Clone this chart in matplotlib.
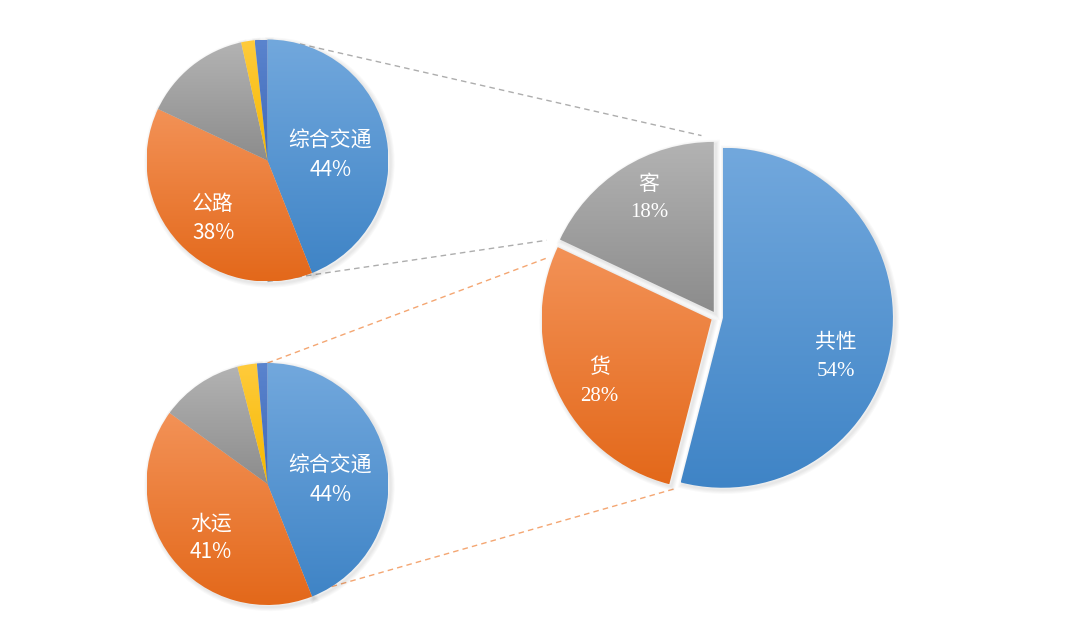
"""Pie-of-pie style chart: main split (共性/货/客) with two breakdown pies."""

import numpy as np
import matplotlib
matplotlib.use("Agg")
import matplotlib.pyplot as plt
import matplotlib.colors as mcolors
import matplotlib.patheffects as pe
from matplotlib.patches import Wedge

plt.rcParams["font.family"] = ["Noto Sans CJK SC", "DejaVu Sans"]

# --- data -------------------------------------------------------------
main_labels = ["共性", "货", "客"]
main_values = [54, 28, 18]

road_labels = ["综合交通", "公路", "", "", ""]
road_values = [44, 38, 14.5, 1.8, 1.7]

water_labels = ["综合交通", "水运", "", "", ""]
water_values = [44, 41, 11.0, 2.6, 1.4]

# --- styles -----------------------------------------------------------
# (top colour, bottom colour) for the vertical gradient of each slice
BLUE = ("#72A8DD", "#3F84C6")
ORANGE = ("#F39257", "#E3681A")
GRAY = ("#B3B3B3", "#8C8C8C")
GOLD = ("#FFCB3C", "#F5B800")
NAVY = ("#5A84CE", "#3F69B8")

W, H = 1080, 644


def px(x, y):
    """Convert picture pixel coords (y down) to axes coords (y up)."""
    return x, H - y


def fill_gradient(ax, wedge, colors, z):
    bb = wedge.get_path().get_extents()
    c0 = np.array(mcolors.to_rgb(colors[0]))
    c1 = np.array(mcolors.to_rgb(colors[1]))
    t = np.linspace(0, 1, 256)[:, None, None]
    img = c0 + (c1 - c0) * t
    im = ax.imshow(img, extent=(bb.x0, bb.x1, bb.y0, bb.y1), origin="upper",
                   aspect="auto", interpolation="bilinear", zorder=z)
    im.set_clip_path(wedge)


def soft_shadow(ax, wedge, z, dx=2.0, dy=-2.0):
    sh = Wedge((wedge.center[0] + dx, wedge.center[1] + dy), wedge.r,
               wedge.theta1, wedge.theta2, facecolor="none", edgecolor="none",
               zorder=z)
    sh.set_path_effects([pe.Stroke(linewidth=w, foreground="k", alpha=0.025)
                         for w in (1.5, 3, 4.5, 6)])
    ax.add_patch(sh)


def draw_pie(ax, values, colors, center, radius, explode=None, z=3):
    wedges, _ = ax.pie(values, colors=["none"] * len(values), startangle=90,
                       counterclock=False, center=center, radius=radius,
                       explode=explode, wedgeprops=dict(linewidth=0, zorder=z))
    for w, c in zip(wedges, colors):
        soft_shadow(ax, w, z - 1)
        fill_gradient(ax, w, c, z)
    return wedges


def label(ax, center, radius, offset, name, pct, fam, gap=14.5, size=15):
    x = center[0] + offset[0] * radius
    y = center[1] + offset[1] * radius
    ax.text(x, y + gap, name, ha="center", va="center", color="white",
            fontsize=size, zorder=10)
    ax.text(x, y - gap, pct, ha="center", va="center", color="white",
            fontsize=size, family=fam, zorder=10)


fig = plt.figure(figsize=(W / 100, H / 100), dpi=100)
ax = fig.add_axes([0, 0, 1, 1])

# --- main pie ----------------------------------------------------------
main_c = px(717, 317)
main_r = 170
# pie() takes the explode distance in data units (pixels here)
main_w = draw_pie(ax, main_values, [BLUE, ORANGE, GRAY], main_c, main_r,
                  explode=[6] * 3, z=5)

# --- breakdown pies ----------------------------------------------------
top_c, bot_c = px(267.5, 160.5), px(267.5, 484)
small_r = 121
draw_pie(ax, road_values, [BLUE, ORANGE, GRAY, GOLD, NAVY], top_c, small_r, z=5)
draw_pie(ax, water_values, [BLUE, ORANGE, GRAY, GOLD, NAVY], bot_c, small_r, z=5)


# --- connector lines ---------------------------------------------------
def on_circle(c, r, ang):
    a = np.deg2rad(ang)
    return c[0] + r * np.cos(a), c[1] + r * np.sin(a)


orange_w, gray_w = main_w[1], main_w[2]
conns = [
    (on_circle(top_c, small_r, 74.5),
     on_circle(gray_w.center, gray_w.r * 1.04, gray_w.theta1 + 4), "#ADADAD"),
    (on_circle(top_c, small_r, 270),
     on_circle(gray_w.center, gray_w.r * 1.07, gray_w.theta2 + 2), "#ADADAD"),
    (on_circle(bot_c, small_r, 90),
     on_circle(orange_w.center, orange_w.r * 1.03, orange_w.theta1 + 4.5), "#F4A672"),
    (on_circle(bot_c, small_r, -58),
     on_circle(orange_w.center, orange_w.r * 1.02, orange_w.theta2 + 2), "#F4A672"),
]
for p0, p1, col in conns:
    ax.plot([p0[0], p1[0]], [p0[1], p1[1]], color=col, lw=1.0,
            ls=(0, (4, 3)), zorder=1)

# --- labels ------------------------------------------------------------
serif = ["Liberation Serif", "DejaVu Serif"]
sans = ["Noto Sans CJK SC", "DejaVu Sans"]
main_offsets = [(0.70, -0.235), (-0.69, -0.38), (-0.40, 0.70)]
for name, v, off in zip(main_labels, main_values, main_offsets):
    label(ax, main_c, main_r, off, name, f"{v:.0f}%", serif)

small_offsets = [(0.52, 0.04), (-0.45, -0.48)]
for i, off in enumerate(small_offsets):
    label(ax, top_c, small_r, off, road_labels[i], f"{road_values[i]:.0f}%", sans)
small_offsets = [(0.52, 0.03), (-0.465, -0.446)]
for i, off in enumerate(small_offsets):
    label(ax, bot_c, small_r, off, water_labels[i], f"{water_values[i]:.0f}%", sans)

ax.set_xlim(0, W)
ax.set_ylim(0, H)
ax.set_aspect("equal")
ax.axis("off")

fig.savefig("out.png", dpi=100, facecolor="white")
